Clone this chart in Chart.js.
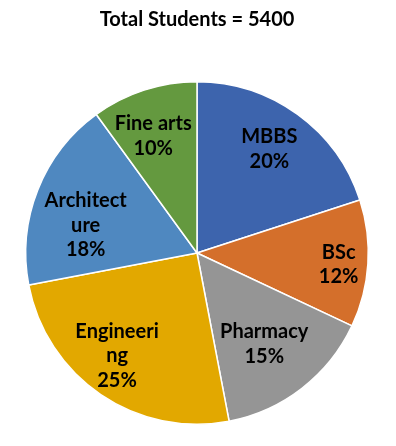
<!DOCTYPE html>
<html lang="en">
<head>
    <meta charset="UTF-8">
    <title>Total Students</title>
    <script src="https://cdn.jsdelivr.net/npm/chart.js"></script>
    <style>
        body { margin: 0; background: #fff; }
        #wrap { width: 396px; height: 446px; }
    </style>
</head>
<body>
    <div id="wrap"><canvas id="pieChart"></canvas></div>

    <script>
        const courses = ['MBBS', 'BSc', 'Pharmacy', 'Engineering', 'Architecture', 'Fine arts'];
        const shares = [20, 12, 15, 25, 18, 10];
        // how the labels wrap in the original
        const labelLines = [['MBBS'], ['BSc'], ['Pharmacy'], ['Engineeri', 'ng'], ['Architect', 'ure'], ['Fine arts']];
        const colors = ['#3d64ad', '#d46f2b', '#959595', '#e2a800', '#4f88c0', '#64993f'];

        // label placement: fraction of radius and angle nudge (deg)
        const labelRadius = [0.74, 0.83, 0.66, 0.76, 0.67, 0.73];
        const labelTurn = [-1.2, 1.1, 1.3, 3.7, -7.6, -2.5];

        const textPlugin = {
            id: 'textPlugin',
            afterDatasetsDraw(chart) {
                const ctx = chart.ctx;
                ctx.save();
                ctx.fillStyle = '#000';
                ctx.font = 'bold 20px Lato';
                ctx.textAlign = 'center';
                ctx.textBaseline = 'middle';
                ctx.fillText('Total Students = 5400', 197, 20);

                const arcs = chart.getDatasetMeta(0).data;
                arcs.forEach((arc, i) => {
                    const p = arc.getProps(['x', 'y', 'startAngle', 'endAngle', 'outerRadius'], true);
                    const a = (p.startAngle + p.endAngle) / 2 + labelTurn[i] * Math.PI / 180;
                    const r = p.outerRadius * labelRadius[i];
                    const cx = p.x + r * Math.cos(a);
                    const cy = p.y + r * Math.sin(a);
                    const lines = labelLines[i].concat([shares[i] + '%']);
                    const step = 24.5;
                    lines.forEach((t, k) => {
                        ctx.fillText(t, cx, cy + (k - (lines.length - 1) / 2) * step);
                    });
                });
                ctx.restore();
            }
        };

        new Chart(document.getElementById('pieChart'), {
            type: 'pie',
            data: {
                labels: courses,
                datasets: [{
                    data: shares,
                    backgroundColor: colors,
                    borderColor: '#ffffff',
                    borderWidth: 1.5
                }]
            },
            options: {
                responsive: true,
                maintainAspectRatio: false,
                animation: false,
                layout: { padding: { top: 81, bottom: 21, left: 25, right: 27 } },
                plugins: {
                    legend: { display: false },
                    tooltip: { enabled: false },
                    title: { display: false }
                }
            },
            plugins: [textPlugin]
        });
    </script>
</body>
</html>
